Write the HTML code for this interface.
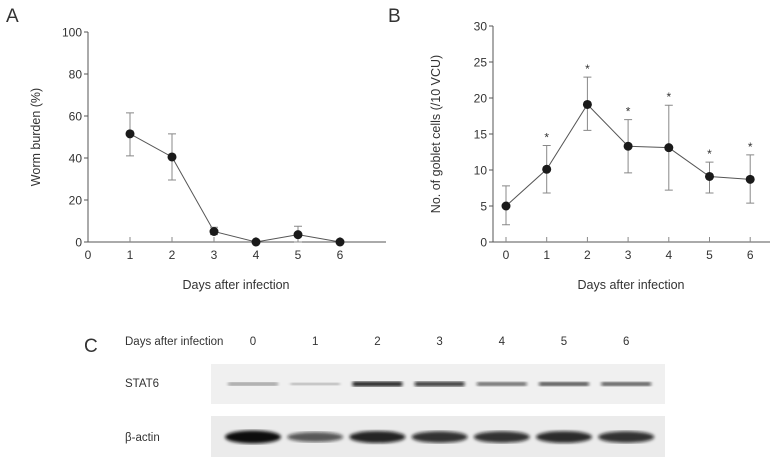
<!DOCTYPE html>
<html><head><meta charset="utf-8"><style>
body{margin:0;background:#fff;font-family:"Liberation Sans",sans-serif;}
svg text{font-family:"Liberation Sans",sans-serif;fill:#333;}
</style></head><body>
<svg id="fig" width="780" height="458" viewBox="0 0 780 458">
<defs>
<filter id="blur1"><feGaussianBlur stdDeviation="1.6"/></filter>
</defs>
</svg>
<script>
const daysA=[1,2,3,4,5,6];
const burden=[51.5,40.5,5,0,3.5,0];
const burdenLo=[41,29.5,3.5,0,0,0];
const burdenHi=[61.5,51.5,7,0,7.5,0];
const ticksAY=[0,20,40,60,80,100];
const ticksAX=[0,1,2,3,4,5,6];
const daysB=[0,1,2,3,4,5,6];
const goblet=[5,10.1,19.1,13.3,13.1,9.1,8.7];
const gobletLo=[2.4,6.8,15.5,9.6,7.2,6.8,5.4];
const gobletHi=[7.8,13.4,22.9,17,19,11.1,12.1];
const gobletSig=[false,true,true,true,true,true,true];
const ticksBY=[0,5,10,15,20,25,30];
const lanes=["0","1","2","3","4","5","6"];
const stat6=[0.35,0.15,0.95,0.85,0.6,0.7,0.65];
const actin=[1.0,0.5,0.85,0.75,0.75,0.8,0.75];

const NS="http://www.w3.org/2000/svg";
const svg=document.getElementById('fig');
function mk(tag,attrs,parent){const e=document.createElementNS(NS,tag);for(const k in attrs)e.setAttribute(k,attrs[k]);(parent||svg).appendChild(e);return e;}
function txt(x,y,s,size,anchor,parent){const t=mk('text',{x:x,y:y,'font-size':size,'text-anchor':anchor||'middle'},parent);t.textContent=s;return t;}

function chart(opts){
  const g=mk('g',{});
  
  
  const xs=v=>opts.x0+v*opts.dx;
  const ys=v=>opts.yb-(v-opts.ymin)/(opts.ymax-opts.ymin)*(opts.yb-opts.yt);
  const ax=mk('line',{x1:opts.ax,y1:opts.yt,x2:opts.ax,y2:opts.yb,stroke:'#555','stroke-width':1},g);
  
  const bx=mk('line',{x1:opts.ax,y1:opts.yb,x2:opts.xe,y2:opts.yb,stroke:'#555','stroke-width':1},g);
  
  opts.yt_ticks.forEach(v=>{
    mk('line',{x1:opts.ax-4,y1:ys(v),x2:opts.ax,y2:ys(v),stroke:'#555'},g);
    const t=txt(opts.ax-6,ys(v)+4.5,String(v),12,'end',g);
    
  });
  opts.xt_ticks.forEach(v=>{
    if(xs(v)>opts.ax+1) mk('line',{x1:xs(v),y1:opts.yb,x2:xs(v),y2:opts.yb-5,stroke:'#888'},g);
    const t=txt(xs(v),opts.yb+17,String(v),12,'middle',g);
    
  });
  const xt=txt(opts.xtitleX,opts.yb+47,'Days after infection',12.5,'middle',g);
  
  const yt=txt(0,0,opts.ytitle,12.5,'middle',g);
  yt.setAttribute('transform','translate('+opts.ytitleX+','+(opts.yt+opts.yb)/2+') rotate(-90)');
  
  const pts=opts.xv.map((d,i)=>xs(d)+','+ys(opts.yv[i])).join(' ');
  const pl=mk('polyline',{points:pts,fill:'none',stroke:'#555','stroke-width':1},g);
  
  opts.xv.forEach((d,i)=>{
    const x=xs(d);
    if(opts.hi[i]!==opts.lo[i]){
      const eb=mk('path',{d:'M'+x+','+ys(opts.lo[i])+'V'+ys(opts.hi[i])+'M'+(x-4)+','+ys(opts.hi[i])+'H'+(x+4)+'M'+(x-4)+','+ys(opts.lo[i])+'H'+(x+4),stroke:'#888',fill:'none','stroke-width':1},g);
      
    }
    const c=mk('circle',{cx:x,cy:ys(opts.yv[i]),r:4.5,fill:'#1a1a1a'},g);
    
    if(opts.sig&&opts.sig[i]){
      const s=txt(x,ys(opts.hi[i])-4,'*',12,'middle',g);
      
    }
  });
}
chart({name:'chart-a-worm-burden',ax:88,x0:88,dx:42,xe:386,yt:32,yb:242,ymin:0,ymax:100,yt_ticks:ticksAY,xt_ticks:ticksAX,xv:daysA,yv:burden,lo:burdenLo,hi:burdenHi,ytitle:'Worm burden (%)',ytitleX:40,xtitleX:236});
chart({name:'chart-b-goblet-cells',ax:493,x0:506,dx:40.7,xe:770,yt:26,yb:242,ymin:0,ymax:30,yt_ticks:ticksBY,xt_ticks:ticksAX,xv:daysB,yv:goblet,lo:gobletLo,hi:gobletHi,sig:gobletSig,ytitle:'No. of goblet cells (/10 VCU)',ytitleX:440,xtitleX:631});
[['A',6,22],['B',388,22],['C',84,352]].forEach(p=>{const t=txt(p[1],p[2],p[0],19,'start');});
const bg=mk('g',{});


let t=txt(125,345,'Days after infection',11.5,'start',bg);
t=txt(125,387,'STAT6',11.5,'start',bg);
t=txt(125,441,'β-actin',11.5,'start',bg);
const laneX=i=>253+i*62.2;
lanes.forEach((l,i)=>{const tt=txt(laneX(i),345,l,11.5,'middle',bg);});
let r=mk('rect',{x:211,y:364,width:454,height:40,fill:'#f0f0f0'},bg);
r=mk('rect',{x:211,y:416,width:454,height:41,fill:'#ebebeb'},bg);
stat6.forEach((v,i)=>{const e=mk('rect',{x:laneX(i)-25,y:383-v*1.5,width:50,height:2+v*3,rx:2,fill:'#111','fill-opacity':0.2+v*0.8,filter:'url(#blur1)'},bg);});
actin.forEach((v,i)=>{const e=mk('ellipse',{cx:laneX(i),cy:437,rx:28,ry:3.5+v*3,fill:'#111','fill-opacity':0.35+v*0.65,filter:'url(#blur1)'},bg);});
</script>
</body></html>
